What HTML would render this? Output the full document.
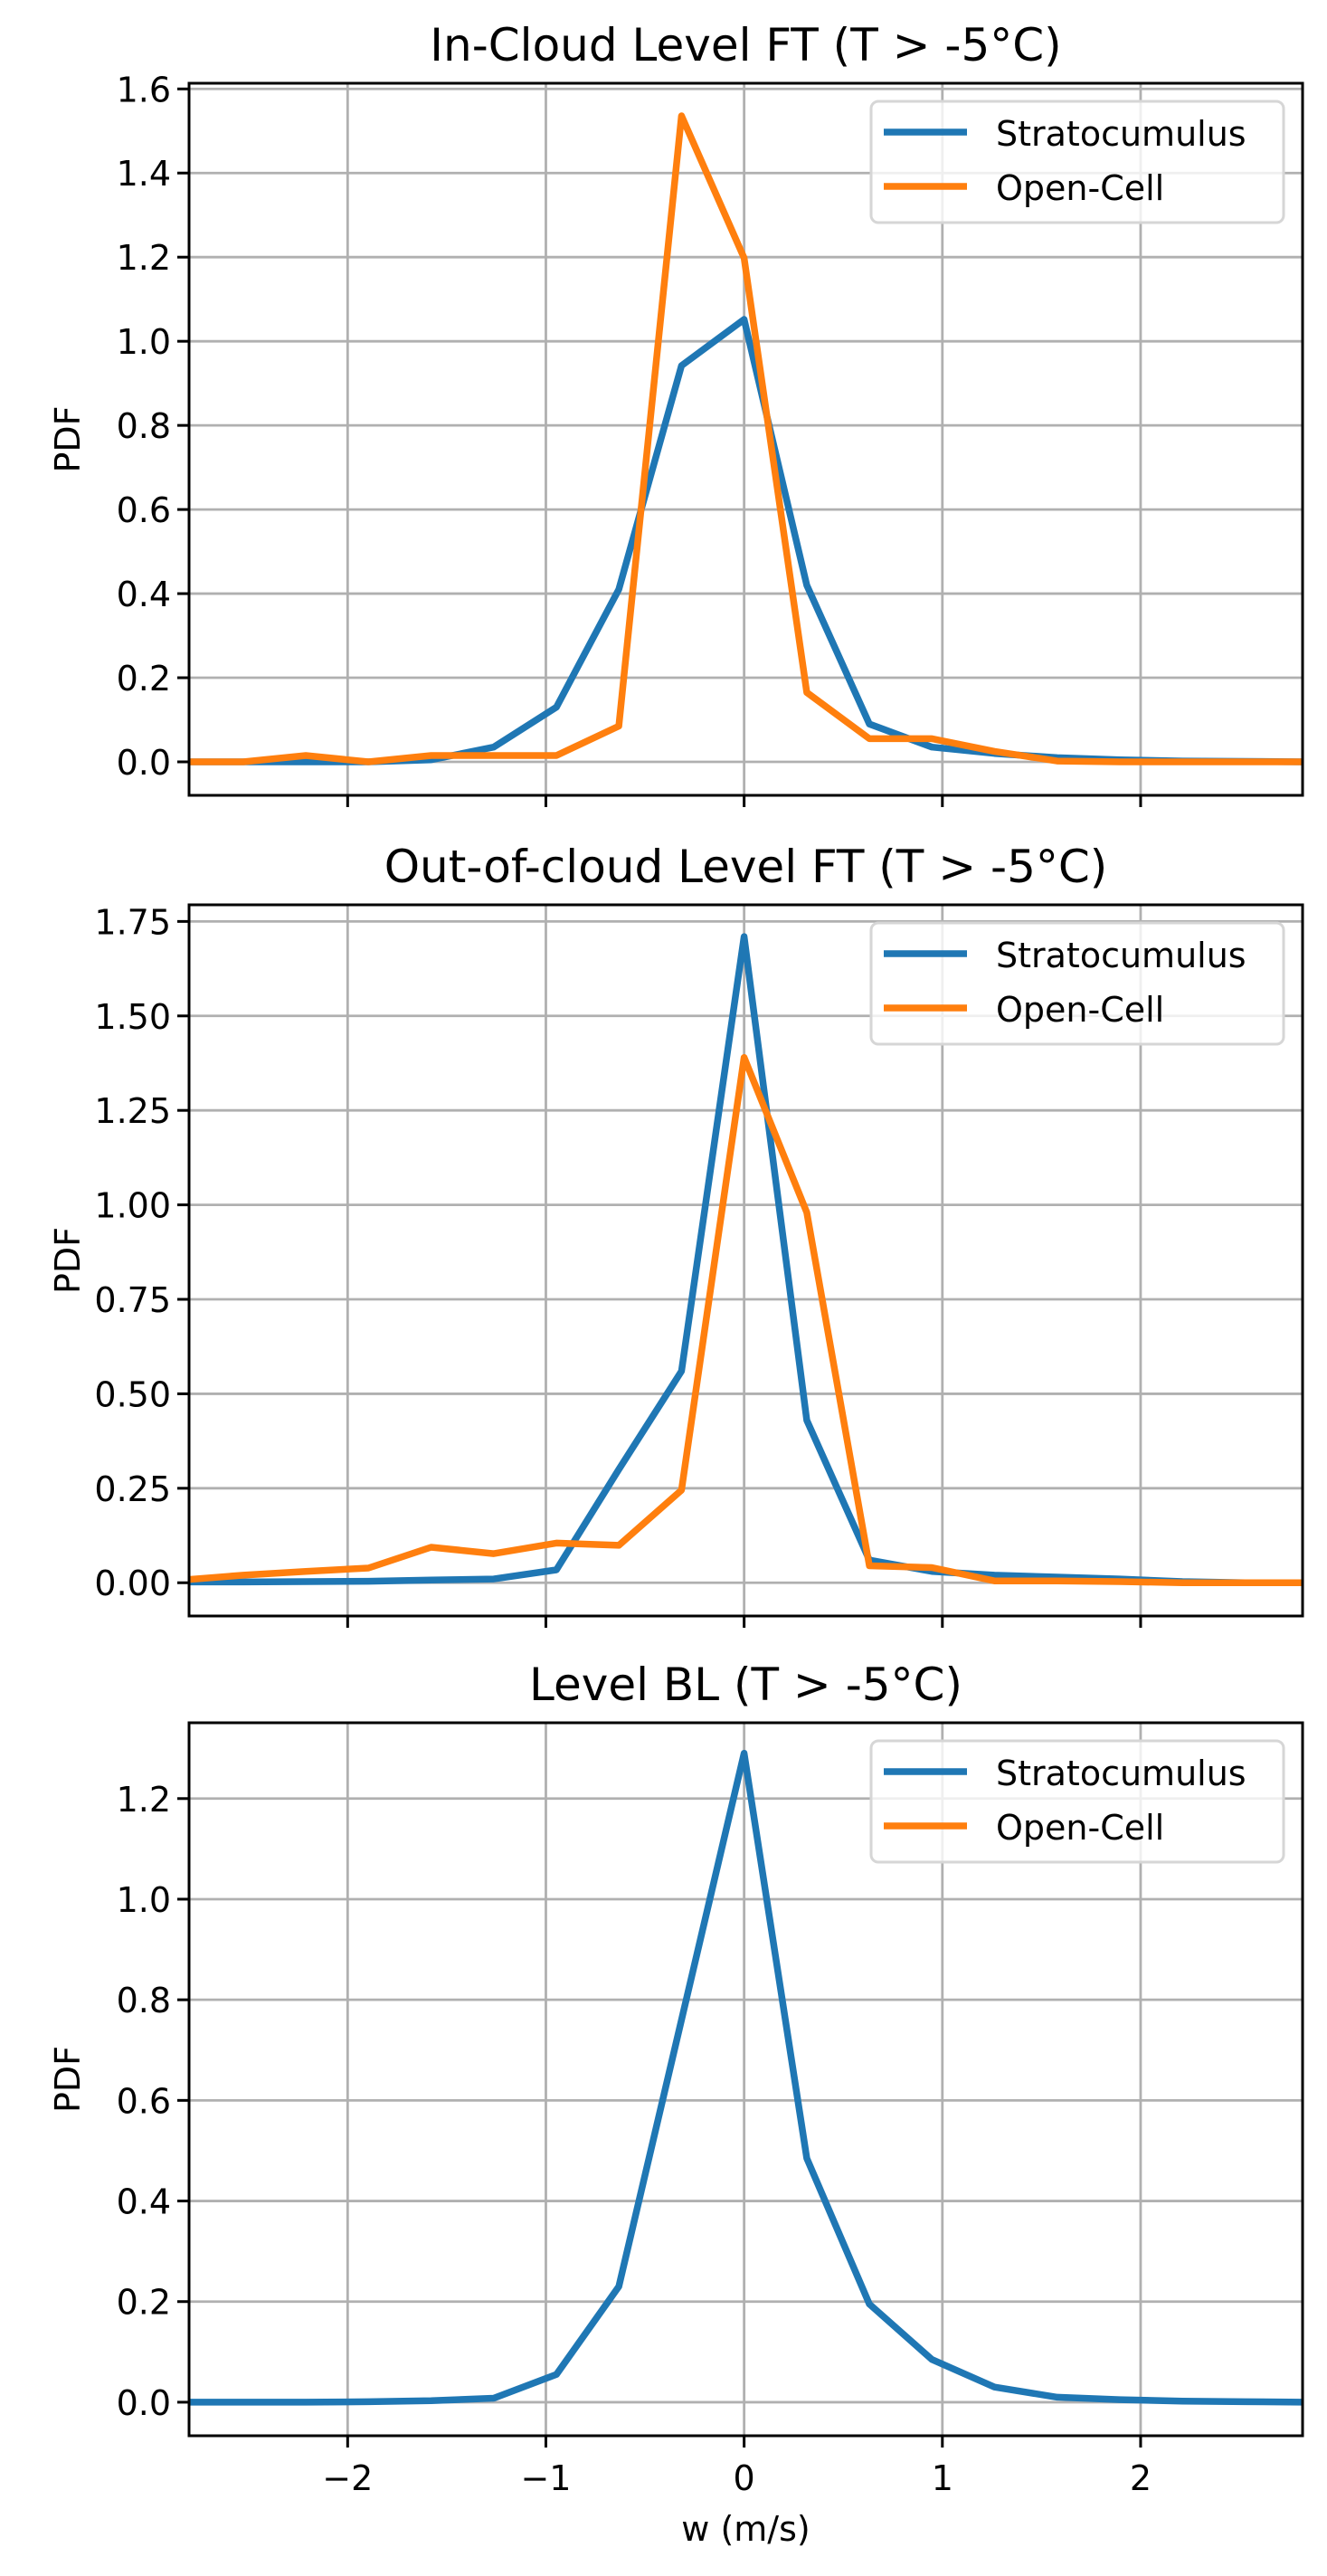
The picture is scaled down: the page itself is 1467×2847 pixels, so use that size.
<!DOCTYPE html>
<html><head><meta charset="utf-8">
<style>
html,body{margin:0;padding:0;background:#fff;}
svg{display:block;font-family:"DejaVu Sans","Liberation Sans",sans-serif;}
</style></head>
<body>
<svg id="fig" width="1467" height="2847" viewBox="0 0 1467 2847" xmlns="http://www.w3.org/2000/svg"></svg>
<script>
const xCenters = [-2.842,-2.526,-2.211,-1.895,-1.579,-1.263,-0.947,-0.632,-0.316,0,0.316,0.632,0.947,1.263,1.579,1.895,2.211,2.526,2.842];
const xTicks = [-2,-1,0,1,2];
const xTickLabels = ["\u22122","\u22121","0","1","2"];
const titles = ["In-Cloud Level FT (T > -5°C)","Out-of-cloud Level FT (T > -5°C)","Level BL (T > -5°C)"];
const strat1 = [0,0,0,0,0.005,0.035,0.13,0.41,0.942,1.052,0.42,0.09,0.035,0.02,0.01,0.005,0.002,0.001,0];
const open1  = [0,0,0.015,0,0.015,0.015,0.015,0.085,1.536,1.198,0.165,0.055,0.055,0.025,0.002,0,0,0,0];
const strat2 = [0.002,0.002,0.003,0.004,0.007,0.01,0.034,0.30,0.56,1.71,0.43,0.06,0.03,0.02,0.015,0.01,0.003,0,0];
const open2  = [0.007,0.02,0.03,0.039,0.094,0.077,0.105,0.099,0.245,1.39,0.98,0.045,0.04,0.005,0.005,0.003,0,0,0];
const strat3 = [0,0,0,0.001,0.003,0.008,0.055,0.23,0.76,1.29,0.485,0.195,0.085,0.03,0.01,0.005,0.002,0.001,0];
const open3  = [];
const yTicks1 = [0,0.2,0.4,0.6,0.8,1.0,1.2,1.4,1.6];
const yTickLabels1 = ["0.0","0.2","0.4","0.6","0.8","1.0","1.2","1.4","1.6"];
const yTicks2 = [0,0.25,0.5,0.75,1.0,1.25,1.5,1.75];
const yTickLabels2 = ["0.00","0.25","0.50","0.75","1.00","1.25","1.50","1.75"];
const yTicks3 = [0,0.2,0.4,0.6,0.8,1.0,1.2];
const yTickLabels3 = ["0.0","0.2","0.4","0.6","0.8","1.0","1.2"];

const NS="http://www.w3.org/2000/svg";
const svg=document.getElementById('fig');
const L=209, R=1440, XMIN=-2.80, XMAX=2.817;
function xs(v){return L+(v-XMIN)/(XMAX-XMIN)*(R-L);}
function mk(tag,attrs,parent){const e=document.createElementNS(NS,tag);for(const k in attrs)e.setAttribute(k,attrs[k]);(parent||svg).appendChild(e);return e;}

const panels=[
 {top:92,bottom:879,ymin:-0.0796,ymax:1.6135,s:strat1,o:open1,yt:yTicks1,yl:yTickLabels1},
 {top:1000,bottom:1786,ymin:-0.088,ymax:1.794,s:strat2,o:open2,yt:yTicks2,yl:yTickLabels2},
 {top:1904,bottom:2692,ymin:-0.0667,ymax:1.3507,s:strat3,o:open3,yt:yTicks3,yl:yTickLabels3}
];

panels.forEach((p,i)=>{
  const g=mk('g',{});
  
  
  const ys=v=>p.bottom-(v-p.ymin)/(p.ymax-p.ymin)*(p.bottom-p.top);
  xTicks.forEach(t=>{
    const l=mk('line',{x1:xs(t),x2:xs(t),y1:p.top,y2:p.bottom,stroke:'#b0b0b0','stroke-width':2.8},g);
    
    
  });
  p.yt.forEach((t,k)=>{
    const l=mk('line',{x1:L,x2:R,y1:ys(t),y2:ys(t),stroke:'#b0b0b0','stroke-width':2.8},g);
    
    
    mk('line',{x1:L-13,x2:L,y1:ys(t),y2:ys(t),stroke:'#000','stroke-width':3},g);
    const tx=mk('text',{x:L-20,y:ys(t)+14,'text-anchor':'end','font-size':38},g);
    tx.textContent=p.yl[k];
    
    
  });
  xTicks.forEach((t,k)=>{
    mk('line',{x1:xs(t),x2:xs(t),y1:p.bottom,y2:p.bottom+13,stroke:'#000','stroke-width':3},g);
    if(i===2){
      const tx=mk('text',{x:xs(t),y:p.bottom+60,'text-anchor':'middle','font-size':38},g);
      tx.textContent=xTickLabels[k];
      
      
    }
  });
  const cp=mk('clipPath',{id:'c'+i},g);
  mk('rect',{x:L,y:p.top,width:R-L,height:p.bottom-p.top},cp);
  const series=[[p.s,'#1f77b4','stratocumulus-line'],[p.o,'#ff7f0e','open-cell-line']];
  series.forEach(([arr,col,nm])=>{
    if(!arr.length)return;
    const pts=arr.map((v,k)=>xs(xCenters[k]).toFixed(1)+','+ys(v).toFixed(1)).join(' ');
    const pl=mk('polyline',{points:pts,fill:'none',stroke:col,'stroke-width':7.5,'stroke-linejoin':'round','stroke-linecap':'square','clip-path':'url(#c'+i+')'},g);
    
    
  });
  const fr=mk('rect',{x:L,y:p.top,width:R-L,height:p.bottom-p.top,fill:'none',stroke:'#000','stroke-width':3},g);
  
  
  const tt=mk('text',{x:(L+R)/2,y:p.top-25,'text-anchor':'middle','font-size':50},g);
  tt.textContent=titles[i];
  
  
  const yl=mk('text',{x:0,y:0,'text-anchor':'middle','font-size':38,transform:'translate(88,'+((p.top+p.bottom)/2)+') rotate(-90)'},g);
  yl.textContent='PDF';
  
  
  const lg=mk('g',{},g);
  
  
  const lt=p.top+20;
  mk('rect',{x:963,y:lt,width:456,height:134,rx:8,fill:'rgba(255,255,255,0.8)',stroke:'#d6d6d6','stroke-width':3},lg);
  [['Stratocumulus','#1f77b4',34],['Open-Cell','#ff7f0e',94]].forEach(([t,c,dy])=>{
    mk('line',{x1:977,x2:1069,y1:lt+dy,y2:lt+dy,stroke:c,'stroke-width':7.5},lg);
    const tx=mk('text',{x:1101,y:lt+dy+15,'font-size':38},lg);
    tx.textContent=t;
    
    
  });
});
const xl=mk('text',{x:(L+R)/2,y:2808,'text-anchor':'middle','font-size':38});
xl.textContent='w (m/s)';


</script>
</body></html>
